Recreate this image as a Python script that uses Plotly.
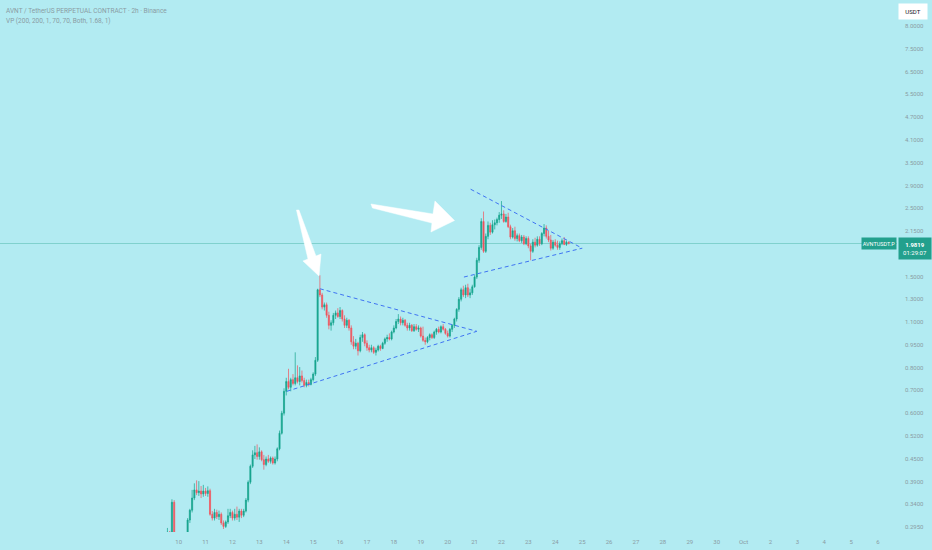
import math
import pandas as pd
import plotly.graph_objects as go

# ---------------- data ----------------
START = "2025-09-09 14:00"   # first 2h candle
FREQ = "2h"

OPEN = [0.275, 0.282, 0.270, 0.345, 0.268, 0.262, 0.258, 0.266, 0.270, 0.275,
        0.306, 0.327, 0.355, 0.375, 0.368, 0.372, 0.365, 0.372, 0.366, 0.373,
        0.318, 0.310, 0.322, 0.313, 0.318, 0.300, 0.293, 0.302, 0.315, 0.322,
        0.310, 0.318, 0.312, 0.325, 0.316, 0.325, 0.350, 0.395, 0.440, 0.475,
        0.482, 0.470, 0.485, 0.460, 0.445, 0.462, 0.455, 0.465, 0.450, 0.462,
        0.495, 0.550, 0.630, 0.730, 0.780, 0.750, 0.790, 0.770, 0.800, 0.780,
        0.810, 0.785, 0.760, 0.775, 0.765, 0.790, 0.820, 0.900, 1.45, 1.40,
        1.29, 1.31, 1.22, 1.14, 1.16, 1.22, 1.24, 1.21, 1.26, 1.19,
        1.14, 1.18, 1.12, 1.02, 0.99, 1.01, 0.96, 1.05, 1.07, 1.01,
        0.98, 0.965, 0.98, 0.95, 0.965, 0.99, 0.975, 1.01, 1.04, 1.05,
        1.04, 1.09, 1.12, 1.17, 1.19, 1.16, 1.18, 1.14, 1.12, 1.14,
        1.10, 1.13, 1.11, 1.12, 1.06, 1.03, 1.02, 1.05, 1.07, 1.05,
        1.09, 1.11, 1.09, 1.13, 1.11, 1.08, 1.06, 1.11, 1.14, 1.19,
        1.27, 1.36, 1.45, 1.40, 1.47, 1.40, 1.42, 1.48, 1.58, 1.77,
        1.93, 2.30, 1.88, 2.08, 2.24, 2.14, 2.25, 2.28, 2.33, 2.40,
        2.42, 2.30, 2.37, 2.22, 2.07, 2.16, 2.05, 2.09, 2.02, 2.07,
        1.98, 2.05, 1.95, 1.88, 2.00, 1.96, 2.04, 1.98, 2.12, 2.20,
        2.08, 2.03, 1.92, 2.00, 1.96, 1.93, 1.98, 2.02, 1.97, 2.00]

HIGH = [0.290, 0.284, 0.352, 0.350, 0.276, 0.270, 0.272, 0.278, 0.280, 0.310,
        0.330, 0.375, 0.392, 0.400, 0.398, 0.385, 0.388, 0.380, 0.384, 0.378,
        0.325, 0.330, 0.328, 0.326, 0.322, 0.305, 0.305, 0.330, 0.330, 0.326,
        0.330, 0.335, 0.330, 0.330, 0.330, 0.355, 0.400, 0.445, 0.490, 0.505,
        0.510, 0.500, 0.490, 0.475, 0.470, 0.475, 0.470, 0.470, 0.470, 0.500,
        0.560, 0.640, 0.745, 0.800, 0.850, 0.800, 0.820, 0.950, 0.870, 0.860,
        0.840, 0.800, 0.790, 0.790, 0.800, 0.830, 0.920, 1.46, 1.60, 1.42,
        1.33, 1.33, 1.25, 1.18, 1.24, 1.26, 1.28, 1.29, 1.27, 1.22,
        1.20, 1.19, 1.14, 1.06, 1.04, 1.02, 1.07, 1.09, 1.08, 1.03,
        1.00, 1.00, 0.99, 0.98, 1.00, 1.00, 1.02, 1.05, 1.07, 1.08,
        1.10, 1.14, 1.19, 1.23, 1.21, 1.20, 1.19, 1.16, 1.16, 1.15,
        1.15, 1.15, 1.14, 1.13, 1.13, 1.05, 1.06, 1.08, 1.08, 1.10,
        1.12, 1.13, 1.14, 1.15, 1.12, 1.10, 1.12, 1.15, 1.20, 1.28,
        1.38, 1.47, 1.49, 1.50, 1.51, 1.46, 1.50, 1.60, 1.80, 1.96,
        2.35, 2.46, 2.12, 2.30, 2.28, 2.32, 2.33, 2.36, 2.45, 2.64,
        2.48, 2.42, 2.44, 2.25, 2.20, 2.22, 2.12, 2.12, 2.10, 2.10,
        2.08, 2.08, 1.98, 2.04, 2.06, 2.08, 2.08, 2.14, 2.26, 2.24,
        2.16, 2.10, 2.03, 2.04, 2.02, 2.01, 2.05, 2.07, 2.02, 2.01]

LOW = [0.270, 0.262, 0.265, 0.262, 0.255, 0.250, 0.252, 0.260, 0.262, 0.270,
       0.300, 0.322, 0.350, 0.362, 0.360, 0.355, 0.358, 0.360, 0.358, 0.315,
       0.305, 0.305, 0.308, 0.306, 0.296, 0.288, 0.290, 0.298, 0.310, 0.305,
       0.305, 0.306, 0.302, 0.310, 0.312, 0.322, 0.345, 0.390, 0.435, 0.462,
       0.460, 0.460, 0.455, 0.430, 0.440, 0.450, 0.448, 0.445, 0.445, 0.455,
       0.490, 0.545, 0.620, 0.710, 0.740, 0.730, 0.760, 0.760, 0.770, 0.760,
       0.775, 0.750, 0.750, 0.755, 0.760, 0.780, 0.810, 0.890, 1.38, 1.27,
       1.26, 1.20, 1.11, 1.10, 1.14, 1.19, 1.20, 1.19, 1.17, 1.12,
       1.12, 1.10, 1.00, 0.97, 0.97, 0.93, 0.95, 1.02, 0.99, 0.96,
       0.95, 0.95, 0.94, 0.93, 0.955, 0.96, 0.97, 1.00, 1.02, 1.03,
       1.03, 1.08, 1.11, 1.15, 1.14, 1.14, 1.13, 1.10, 1.10, 1.09,
       1.09, 1.10, 1.09, 1.05, 1.02, 1.00, 1.01, 1.03, 1.04, 1.04,
       1.07, 1.08, 1.08, 1.10, 1.07, 1.05, 1.05, 1.09, 1.12, 1.17,
       1.25, 1.34, 1.38, 1.37, 1.38, 1.37, 1.40, 1.47, 1.56, 1.74,
       1.90, 1.86, 1.86, 2.04, 2.10, 2.12, 2.18, 2.24, 2.28, 2.34,
       2.28, 2.28, 2.20, 2.04, 2.05, 2.02, 2.01, 2.00, 1.99, 1.96,
       1.96, 1.92, 1.77, 1.86, 1.93, 1.94, 1.95, 1.96, 2.08, 2.05,
       2.00, 1.89, 1.90, 1.94, 1.90, 1.90, 1.96, 1.96, 1.95, 1.97]

CLOSE = [0.282, 0.270, 0.345, 0.268, 0.262, 0.258, 0.266, 0.270, 0.275, 0.306,
         0.327, 0.355, 0.375, 0.368, 0.372, 0.365, 0.372, 0.366, 0.373, 0.318,
         0.310, 0.322, 0.313, 0.318, 0.300, 0.293, 0.302, 0.315, 0.322, 0.310,
         0.318, 0.312, 0.325, 0.316, 0.325, 0.350, 0.395, 0.440, 0.475, 0.482,
         0.470, 0.485, 0.460, 0.445, 0.462, 0.455, 0.465, 0.450, 0.462, 0.495,
         0.550, 0.630, 0.730, 0.780, 0.750, 0.790, 0.770, 0.800, 0.780, 0.810,
         0.785, 0.760, 0.775, 0.765, 0.790, 0.820, 0.900, 1.45, 1.40, 1.29,
         1.31, 1.22, 1.14, 1.16, 1.22, 1.24, 1.21, 1.26, 1.19, 1.14,
         1.18, 1.12, 1.02, 0.99, 1.01, 0.96, 1.05, 1.07, 1.01, 0.98,
         0.965, 0.98, 0.95, 0.965, 0.99, 0.975, 1.01, 1.04, 1.05, 1.04,
         1.09, 1.12, 1.17, 1.19, 1.16, 1.18, 1.14, 1.12, 1.14, 1.10,
         1.13, 1.11, 1.12, 1.06, 1.03, 1.02, 1.05, 1.07, 1.05, 1.09,
         1.11, 1.09, 1.13, 1.11, 1.08, 1.06, 1.11, 1.14, 1.19, 1.27,
         1.36, 1.45, 1.40, 1.47, 1.40, 1.42, 1.48, 1.58, 1.77, 1.93,
         2.30, 1.88, 2.08, 2.24, 2.14, 2.25, 2.28, 2.33, 2.40, 2.42,
         2.30, 2.37, 2.22, 2.07, 2.16, 2.05, 2.09, 2.02, 2.07, 1.98,
         2.05, 1.95, 1.88, 2.00, 1.96, 2.04, 1.98, 2.12, 2.20, 2.08,
         2.03, 1.92, 2.00, 1.96, 1.93, 1.98, 2.02, 1.97, 2.00, 1.9819]

LAST_PRICE = 1.9819
COUNTDOWN = "01:29:07"
SYMBOL = "AVNTUSDT.P"

# trend lines (triangles)
TRI1_UPPER_X = ["2025-09-15 06:00", "2025-09-21 02:00"]
TRI1_UPPER_Y = [1.46, 1.095]
TRI1_LOWER_X = ["2025-09-14 00:30", "2025-09-21 02:00"]
TRI1_LOWER_Y = [0.73, 1.095]
TRI2_UPPER_X = ["2025-09-20 20:30", "2025-09-25 00:00"]
TRI2_UPPER_Y = [2.86, 1.92]
TRI2_LOWER_X = ["2025-09-20 14:30", "2025-09-25 00:00"]
TRI2_LOWER_Y = [1.58, 1.92]

# arrow drawings (outline vertices in time / price)
ARROW1_X = ["2025-09-14 09:06", "2025-09-14 11:20", "2025-09-15 02:30", "2025-09-15 07:00",
            "2025-09-15 05:12", "2025-09-14 14:54", "2025-09-14 19:24", "2025-09-14 09:06"]
ARROW1_Y = [2.485, 2.485, 1.821, 1.846, 1.591, 1.761, 1.785, 2.485]
ARROW2_X = ["2025-09-17 03:36", "2025-09-19 10:54", "2025-09-19 12:42", "2025-09-20 06:06",
            "2025-09-19 09:06", "2025-09-19 10:00", "2025-09-17 04:54", "2025-09-17 03:36"]
ARROW2_Y = [2.588, 2.419, 2.641, 2.315, 2.142, 2.276, 2.519, 2.588]

X_TICK_START = "2025-09-10"
X_TICK_LABELS = ["10", "11", "12", "13", "14", "15", "16", "17", "18", "19", "20",
                 "21", "22", "23", "24", "25", "26", "27", "28", "29", "30",
                 "Oct", "2", "3", "4", "5", "6"]
X_RANGE = ["2025-09-03 08:36", "2025-10-06 16:54"]

# price-scale labels (evenly spaced on the log scale); "" = hidden under the price tag
Y_TICK_LABELS = ["0.2950", "0.3400", "0.3900", "0.4500", "0.5200", "0.6000", "0.7000",
                 "0.8000", "0.9500", "1.1000", "1.3000", "1.5000", "", "2.1500",
                 "2.5000", "2.9000", "3.5000", "4.1000", "4.7000", "5.5000", "6.5000",
                 "7.5000", "8.0000"]
Y_TICK_BASE = 0.2919
Y_TICK_RATIO = 1.1663
Y_RANGE = [0.28218, 10.271]

TITLE_1 = "AVNT / TetherUS PERPETUAL CONTRACT · 2h · Binance"
TITLE_2 = "VP (200, 200, 1, 70, 70, Both, 1.68, 1)"

# ---------------- styles ----------------
BG = "#b2ebf2"
UP = "#14a38c"
DOWN = "#f0535b"
TEAL = "#22a08d"
LINE_BLUE = "#3f74f2"
TXT = "#8a9ca4"
FONT = "Roboto"

times = pd.date_range(START, periods=len(CLOSE), freq=FREQ)

fig = go.Figure()
fig.add_trace(go.Candlestick(
    x=times, open=OPEN, high=HIGH, low=LOW, close=CLOSE,
    increasing=dict(line=dict(color=UP, width=0.7), fillcolor=UP),
    decreasing=dict(line=dict(color=DOWN, width=0.7), fillcolor=DOWN),
    whiskerwidth=0, showlegend=False, hoverinfo="skip"))

for xs, ys in [(TRI1_UPPER_X, TRI1_UPPER_Y), (TRI1_LOWER_X, TRI1_LOWER_Y),
               (TRI2_UPPER_X, TRI2_UPPER_Y), (TRI2_LOWER_X, TRI2_LOWER_Y)]:
    fig.add_trace(go.Scatter(x=xs, y=ys, mode="lines",
                             line=dict(color=LINE_BLUE, width=1, dash="4px,3px"),
                             showlegend=False, hoverinfo="skip"))

for xs, ys in [(ARROW1_X, ARROW1_Y), (ARROW2_X, ARROW2_Y)]:
    fig.add_trace(go.Scatter(x=xs, y=ys, mode="lines", fill="toself",
                             fillcolor="white", line=dict(color="white", width=0.5),
                             showlegend=False, hoverinfo="skip"))

x_tickvals = pd.date_range(X_TICK_START, periods=len(X_TICK_LABELS), freq="D")
y_tickvals = [Y_TICK_BASE * Y_TICK_RATIO ** k for k in range(len(Y_TICK_LABELS))]

fig.update_layout(
    width=932, height=550,
    margin=dict(l=0, r=35, t=0, b=18),
    paper_bgcolor=BG, plot_bgcolor=BG,
    font=dict(family=FONT, size=6, color=TXT),
    xaxis=dict(type="date", range=X_RANGE, rangeslider=dict(visible=False),
               showgrid=False, zeroline=False, showline=False,
               tickvals=x_tickvals, ticktext=X_TICK_LABELS, ticks="",
               ticklabelstandoff=5, tickfont=dict(size=6, color=TXT)),
    yaxis=dict(type="log", side="right",
               range=[math.log10(Y_RANGE[0]), math.log10(Y_RANGE[1])],
               showgrid=False, zeroline=False, showline=False,
               tickvals=y_tickvals, ticktext=Y_TICK_LABELS, ticks="",
               ticklabelstandoff=7, tickfont=dict(size=6, color=TXT)),
    hovermode=False,
)

# last-price line (shape y given as a data value)
fig.add_shape(type="line", xref="paper", x0=0, x1=1, yref="y",
              y0=LAST_PRICE, y1=LAST_PRICE,
              line=dict(color="rgba(34,160,141,0.35)", width=1), layer="below")

annos = [
    dict(text=TITLE_1, xref="paper", yref="paper", x=0, y=1, xanchor="left",
         yanchor="middle", xshift=4, yshift=-11, showarrow=False,
         font=dict(size=6.5, color=TXT, family=FONT)),
    dict(text=TITLE_2, xref="paper", yref="paper", x=0, y=1, xanchor="left",
         yanchor="middle", xshift=4, yshift=-21, showarrow=False,
         font=dict(size=6.5, color=TXT, family=FONT)),
    dict(text=SYMBOL, xref="paper", yref="y", x=1, y=math.log10(LAST_PRICE),
         xanchor="right", yanchor="middle", showarrow=False, bgcolor=TEAL,
         width=34, height=11, borderpad=0,
         font=dict(size=5.5, color="white", family=FONT)),
    dict(text="<b>%.4f</b><br>%s" % (LAST_PRICE, COUNTDOWN), xref="paper", yref="y",
         x=1, y=math.log10(LAST_PRICE), xanchor="left", yanchor="top",
         yshift=6.5, xshift=0.5, showarrow=False, bgcolor=TEAL,
         width=32, height=21, borderpad=0,
         font=dict(size=6, color="white", family=FONT)),
    dict(text="USDT", xref="paper", yref="paper", x=1, y=1, xanchor="left",
         yanchor="top", xshift=1, yshift=-3, showarrow=False, bgcolor="white",
         width=28, height=15, borderpad=0,
         font=dict(size=6, color="#131722", family=FONT)),
]
fig.update_layout(annotations=annos)

fig.write_html("out.html", config={"displayModeBar": False},
               post_script="document.body.style.margin='0';document.body.style.padding='0';")
